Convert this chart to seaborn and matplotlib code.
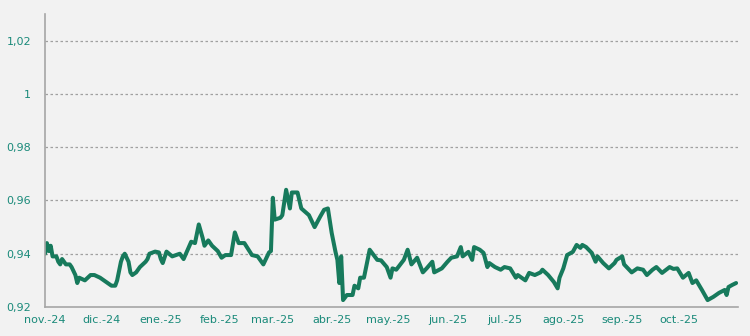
import matplotlib
matplotlib.use("Agg")
import matplotlib.pyplot as plt
import matplotlib.dates as mdates
import matplotlib.ticker as mticker
import seaborn as sns
import pandas as pd

dates = [
    "2024-11-01", "2024-11-02", "2024-11-03", "2024-11-04", "2024-11-05", "2024-11-07", "2024-11-08",
    "2024-11-09", "2024-11-10", "2024-11-12", "2024-11-14", "2024-11-15", "2024-11-17", "2024-11-18",
    "2024-11-19", "2024-11-22", "2024-11-25", "2024-11-27", "2024-11-30", "2024-12-02", "2024-12-04",
    "2024-12-06", "2024-12-08", "2024-12-09", "2024-12-11", "2024-12-12", "2024-12-13", "2024-12-15",
    "2024-12-16", "2024-12-17", "2024-12-19", "2024-12-21", "2024-12-24", "2024-12-25", "2024-12-26",
    "2024-12-29", "2024-12-31", "2025-01-01", "2025-01-02", "2025-01-04", "2025-01-07", "2025-01-11",
    "2025-01-13", "2025-01-17", "2025-01-19", "2025-01-21", "2025-01-23", "2025-01-24", "2025-01-26",
    "2025-01-28", "2025-01-31", "2025-02-02", "2025-02-04", "2025-02-07", "2025-02-09", "2025-02-11",
    "2025-02-14", "2025-02-18", "2025-02-21", "2025-02-24", "2025-02-27", "2025-02-28", "2025-03-01",
    "2025-03-02", "2025-03-05", "2025-03-06", "2025-03-08", "2025-03-10", "2025-03-11", "2025-03-14",
    "2025-03-16", "2025-03-20", "2025-03-23", "2025-03-26", "2025-03-28", "2025-03-30", "2025-04-01",
    "2025-04-03", "2025-04-04", "2025-04-05", "2025-04-06", "2025-04-07", "2025-04-09", "2025-04-12",
    "2025-04-13", "2025-04-15", "2025-04-16", "2025-04-18", "2025-04-21", "2025-04-25", "2025-04-27",
    "2025-04-30", "2025-05-02", "2025-05-03", "2025-05-05", "2025-05-09", "2025-05-11", "2025-05-13",
    "2025-05-16", "2025-05-19", "2025-05-21", "2025-05-24", "2025-05-25", "2025-05-29", "2025-06-01",
    "2025-06-03", "2025-06-06", "2025-06-08", "2025-06-09", "2025-06-12", "2025-06-14", "2025-06-15",
    "2025-06-18", "2025-06-20", "2025-06-22", "2025-06-23", "2025-06-26", "2025-06-29", "2025-07-01",
    "2025-07-04", "2025-07-07", "2025-07-08", "2025-07-12", "2025-07-14", "2025-07-17", "2025-07-20",
    "2025-07-21", "2025-07-24", "2025-07-27", "2025-07-29", "2025-07-30", "2025-08-01", "2025-08-03",
    "2025-08-06", "2025-08-08", "2025-08-10", "2025-08-11", "2025-08-13", "2025-08-16", "2025-08-18",
    "2025-08-19", "2025-08-22", "2025-08-25", "2025-08-28", "2025-08-29", "2025-09-01", "2025-09-02",
    "2025-09-06", "2025-09-09", "2025-09-12", "2025-09-14", "2025-09-17", "2025-09-19", "2025-09-22",
    "2025-09-26", "2025-09-28", "2025-09-30", "2025-10-03", "2025-10-06", "2025-10-08", "2025-10-10",
    "2025-10-13", "2025-10-16", "2025-10-19", "2025-10-22", "2025-10-25", "2025-10-26", "2025-10-27",
    "2025-10-29", "2025-10-31",
]
values = [
    0.940, 0.944, 0.941, 0.943, 0.939, 0.939, 0.937,
    0.936, 0.938, 0.936, 0.936, 0.935, 0.932, 0.929,
    0.931, 0.930, 0.932, 0.932, 0.931, 0.930, 0.929,
    0.928, 0.928, 0.930, 0.937, 0.939, 0.940, 0.937,
    0.933, 0.932, 0.933, 0.935, 0.937, 0.938, 0.940,
    0.9408, 0.9405, 0.938, 0.9365, 0.9408, 0.939, 0.940,
    0.938, 0.9445, 0.944, 0.951, 0.946, 0.943, 0.945,
    0.943, 0.941, 0.9385, 0.9395, 0.9395, 0.948, 0.944,
    0.944, 0.9395, 0.939, 0.936, 0.9405, 0.941, 0.961,
    0.9528, 0.9535, 0.9545, 0.964, 0.957, 0.963, 0.963,
    0.957, 0.9545, 0.950, 0.954, 0.9565, 0.957, 0.9478,
    0.9407, 0.9377, 0.929, 0.939, 0.9226, 0.9245, 0.9245,
    0.928, 0.927, 0.931, 0.931, 0.9415, 0.9377, 0.9375,
    0.935, 0.931, 0.9345, 0.934, 0.9377, 0.9415, 0.936,
    0.9385, 0.933, 0.9345, 0.937, 0.933, 0.9345, 0.937,
    0.9385, 0.939, 0.9425, 0.939, 0.9407, 0.9377, 0.9425,
    0.9415, 0.9403, 0.935, 0.9365, 0.935, 0.934, 0.935,
    0.9345, 0.931, 0.932, 0.930, 0.9328, 0.932, 0.933,
    0.934, 0.932, 0.9294, 0.927, 0.931, 0.9345, 0.9395,
    0.9407, 0.9433, 0.9422, 0.9433, 0.9425, 0.9403, 0.937,
    0.939, 0.9365, 0.9345, 0.9365, 0.9377, 0.939, 0.936,
    0.933, 0.9345, 0.934, 0.932, 0.934, 0.935, 0.9328,
    0.935, 0.9343, 0.9345, 0.931, 0.9328, 0.929, 0.930,
    0.9264, 0.9226, 0.9238, 0.9253, 0.9264, 0.9245, 0.9275,
    0.9283, 0.929,
]
month_labels = ["nov.-24", "dic.-24", "ene.-25", "feb.-25", "mar.-25", "abr.-25", "may.-25",
                "jun.-25", "jul.-25", "ago.-25", "sep.-25", "oct.-25", ""]
y_ticks = [0.92, 0.94, 0.96, 0.98, 1.00, 1.02]
y_labels = ["0,92", "0,94", "0,96", "0,98", "1", "1,02"]

df = pd.DataFrame({"fecha": pd.to_datetime(dates), "valor": values})

sns.set_theme(style="white")
plt.rcParams["font.family"] = ["DejaVu Sans"]

bg = "#f2f2f2"
label_color = "#1a8a7a"
line_color = "#177a5c"
axis_color = "#a6a6a6"

fig = plt.figure(figsize=(7.5, 3.36), dpi=100, facecolor=bg)
ax = fig.add_axes([0.06, 0.0863, 0.924, 0.8720])
ax.set_facecolor(bg)

sns.lineplot(data=df, x="fecha", y="valor", ax=ax, color=line_color, linewidth=2.9,
             solid_joinstyle="round", solid_capstyle="round")

ax.set_xlim(pd.Timestamp("2024-11-01"), pd.Timestamp("2025-11-01"))
ax.set_ylim(0.92, 1.030)

month_ticks = pd.date_range("2024-11-01", "2025-11-01", freq="MS")
ax.set_xticks(month_ticks)
ax.set_xticklabels(month_labels)
ax.set_yticks(y_ticks)
ax.set_yticklabels(y_labels)

for t in y_ticks[1:]:
    ax.axhline(t, color="#a0a0a0", linestyle=(0, (2, 2)), linewidth=0.9, zorder=0)

ax.set_xlabel("")
ax.set_ylabel("")
for s in ["top", "right"]:
    ax.spines[s].set_visible(False)
for s in ["left", "bottom"]:
    ax.spines[s].set_color(axis_color)
    ax.spines[s].set_linewidth(1.2)

ax.tick_params(axis="both", which="major", direction="out", length=4, width=1,
               color=axis_color, labelsize=8, labelcolor=label_color, pad=2)
ax.tick_params(axis="y", pad=6)
ax.tick_params(axis="x", pad=2)

fig.savefig("out.png", dpi=100, facecolor=bg)
